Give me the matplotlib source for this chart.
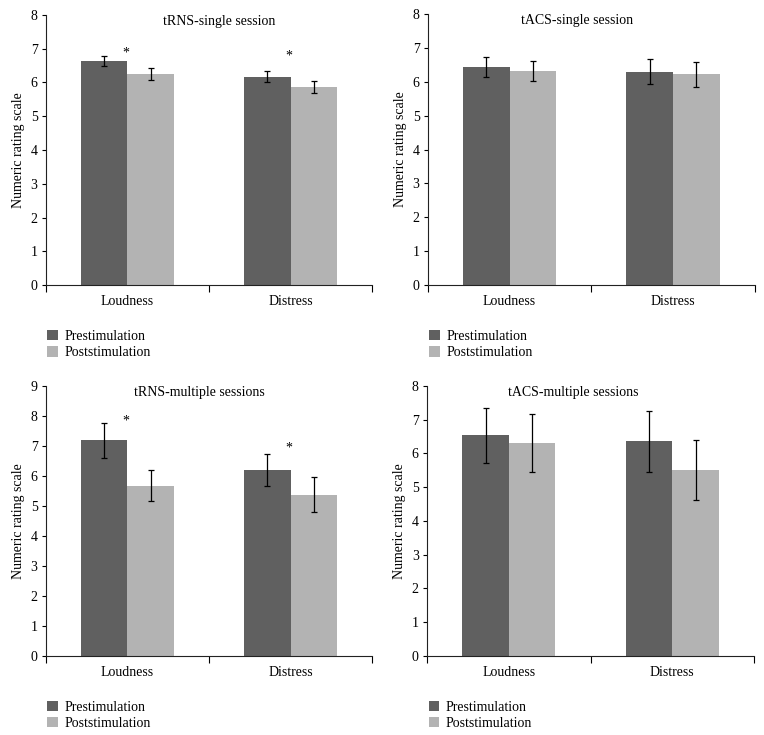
import numpy as np
import matplotlib
matplotlib.use("Agg")
import matplotlib.pyplot as plt

plt.rcParams['font.family'] = ['Liberation Serif', 'DejaVu Serif']

categories = ["Loudness", "Distress"]
series_names = ["Prestimulation", "Poststimulation"]

titles = ["tRNS-single session", "tACS-single session",
          "tRNS-multiple sessions", "tACS-multiple sessions"]
y_max = [8, 8, 9, 8]

# means (pre, post) per panel
pre_means = [[6.63, 6.17], [6.43, 6.29], [7.18, 6.19], [6.54, 6.36]]
post_means = [[6.24, 5.85], [6.32, 6.22], [5.68, 5.38], [6.30, 5.52]]
# error bar half lengths
pre_err = [[0.15, 0.17], [0.30, 0.37], [0.57, 0.53], [0.81, 0.90]]
post_err = [[0.17, 0.18], [0.30, 0.36], [0.52, 0.57], [0.86, 0.89]]
# significance marks: heights, None = no mark
star_y = [[6.87, 6.78], [None, None], [7.84, 6.93], [None, None]]

pre_color = "#606060"
post_color = "#b3b3b3"

fig = plt.figure(figsize=(7.64, 7.35), dpi=100)

axes_pos = [
    [0.060, 0.612, 0.427, 0.368],
    [0.560, 0.612, 0.428, 0.369],
    [0.060, 0.1075, 0.427, 0.3675],
    [0.559, 0.1075, 0.428, 0.3675],
]
title_x = [0.53, 0.456, 0.47, 0.447]

x = np.arange(len(categories))
w = 0.285

for i in range(4):
    ax = fig.add_axes(axes_pos[i])
    ax.bar(x - w / 2, pre_means[i], w, color=pre_color, label=series_names[0])
    ax.bar(x + w / 2, post_means[i], w, color=post_color, label=series_names[1])
    ax.errorbar(x - w / 2, pre_means[i], yerr=pre_err[i], fmt='none',
                ecolor='black', elinewidth=0.9, capsize=2.4, capthick=0.9)
    ax.errorbar(x + w / 2, post_means[i], yerr=post_err[i], fmt='none',
                ecolor='black', elinewidth=0.9, capsize=2.4, capthick=0.9)
    for j, sy in enumerate(star_y[i]):
        if sy is not None:
            ax.text(x[j] - 0.01, sy, "*", ha='center', va='center', fontsize=10)

    ax.set_xlim(-0.5, 1.5)
    ax.set_ylim(0, y_max[i])
    ax.set_yticks(range(0, y_max[i] + 1))
    ax.set_xticks([-0.5, 0.5, 1.5])
    ax.set_xticklabels([])
    ax.set_xticks(x, minor=True)
    ax.set_xticklabels(categories, minor=True)
    ax.tick_params(axis='x', which='minor', length=0, pad=7, labelsize=10)
    ax.tick_params(axis='x', which='major', length=5, width=0.8, direction='out')
    ax.tick_params(axis='y', length=3, width=0.8, direction='out', labelsize=10, pad=3)

    for s in ['top', 'right']:
        ax.spines[s].set_visible(False)
    for s in ['left', 'bottom']:
        ax.spines[s].set_linewidth(0.8)
        ax.spines[s].set_color('#222222')

    ax.set_ylabel("Numeric rating scale", fontsize=10, labelpad=4)
    ax.text(title_x[i], 0.975, titles[i], transform=ax.transAxes,
            ha='center', va='center', fontsize=10)

    ax.legend(loc='upper left', bbox_to_anchor=(0.005, -0.165), frameon=False,
              fontsize=10, handlelength=0.75, handleheight=0.75, handletextpad=0.45,
              labelspacing=0.25, borderpad=0, borderaxespad=0)

fig.savefig("out.png", dpi=100)
